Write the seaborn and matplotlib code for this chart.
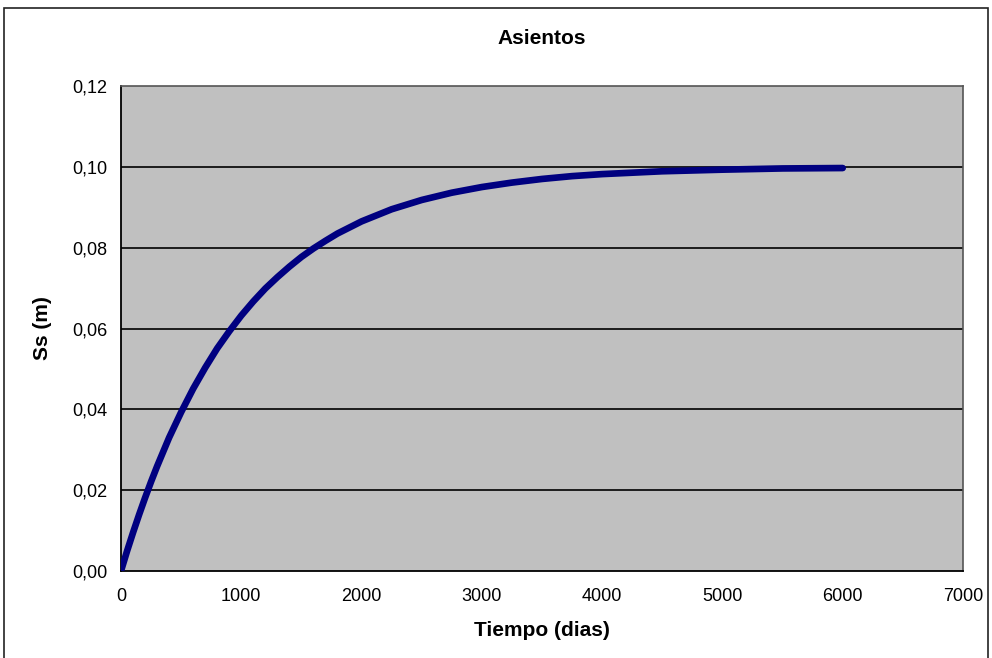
import matplotlib
matplotlib.use("Agg")
import matplotlib.pyplot as plt
import seaborn as sns
import pandas as pd
from matplotlib.patches import Rectangle

# Settlement over time
tiempo = [0, 50, 100, 150, 200, 250, 300, 400, 500, 600, 700, 800, 900, 1000,
          1100, 1200, 1300, 1400, 1500, 1600, 1700, 1800, 1900, 2000, 2250,
          2500, 2750, 3000, 3250, 3500, 3750, 4000, 4500, 5000, 5500, 6000]
asiento = [0.0, 0.0049, 0.0095, 0.0139, 0.0181, 0.0221, 0.0259, 0.0330, 0.0393,
           0.0451, 0.0503, 0.0551, 0.0593, 0.0632, 0.0667, 0.0699, 0.0727,
           0.0753, 0.0777, 0.0798, 0.0817, 0.0835, 0.0850, 0.0865, 0.0895,
           0.0918, 0.0936, 0.0950, 0.0961, 0.0970, 0.0977, 0.0982, 0.0989,
           0.0993, 0.0996, 0.0997]

x_ticks = [0, 1000, 2000, 3000, 4000, 5000, 6000, 7000]
y_ticks = [0.00, 0.02, 0.04, 0.06, 0.08, 0.10, 0.12]
y_tick_labels = ["0,00", "0,02", "0,04", "0,06", "0,08", "0,10", "0,12"]

df = pd.DataFrame({"Tiempo": tiempo, "Ss": asiento})

sns.set_style("white")
plt.rcParams["font.family"] = ["Liberation Sans", "DejaVu Sans"]
plt.rcParams["text.color"] = "black"
plt.rcParams["axes.labelcolor"] = "black"

fig = plt.figure(figsize=(9.92, 6.58), dpi=100)
fig.patch.set_facecolor("white")
ax = fig.add_axes([121 / 992, 1 - 571 / 658, (963 - 121) / 992, (571 - 86) / 658])
ax.set_facecolor("#C0C0C0")

# outer chart border
fig.patches.append(Rectangle((4 / 992, -0.01), (988 - 4) / 992, 1 - 8 / 658 + 0.01,
                             transform=fig.transFigure, fill=False,
                             edgecolor="#222222", linewidth=1.2, zorder=0))

for yv in y_ticks[1:-1]:
    ax.axhline(yv, color="black", linewidth=1.2, zorder=1)

sns.lineplot(data=df, x="Tiempo", y="Ss", ax=ax, color="#000080",
             linewidth=4.8, solid_capstyle="round", solid_joinstyle="round",
             zorder=3)

ax.set_xlim(0, 7000)
ax.set_ylim(0, 0.12)
ax.set_xticks(x_ticks)
ax.set_xticklabels([str(v) for v in x_ticks])
ax.set_yticks(y_ticks)
ax.set_yticklabels(y_tick_labels)

ax.tick_params(axis="both", direction="out", length=6, width=1.2, color="black",
               labelsize=13, labelcolor="black", pad=4)
ax.tick_params(axis="x", pad=6)

for side in ["left", "bottom"]:
    ax.spines[side].set_color("black")
    ax.spines[side].set_linewidth(1.3)
for side in ["top", "right"]:
    ax.spines[side].set_color("#555555")
    ax.spines[side].set_linewidth(1.2)

ax.set_xlabel("Tiempo (dias)", fontsize=15, fontweight="bold", labelpad=12,
              color="black")
ax.set_ylabel("Ss (m)", fontsize=15, fontweight="bold", labelpad=14,
              color="black")
fig.text(542 / 992, 1 - 38 / 658, "Asientos", ha="center", va="center",
         fontsize=15, fontweight="bold", color="black")

fig.savefig("out.png", dpi=100, facecolor="white")
